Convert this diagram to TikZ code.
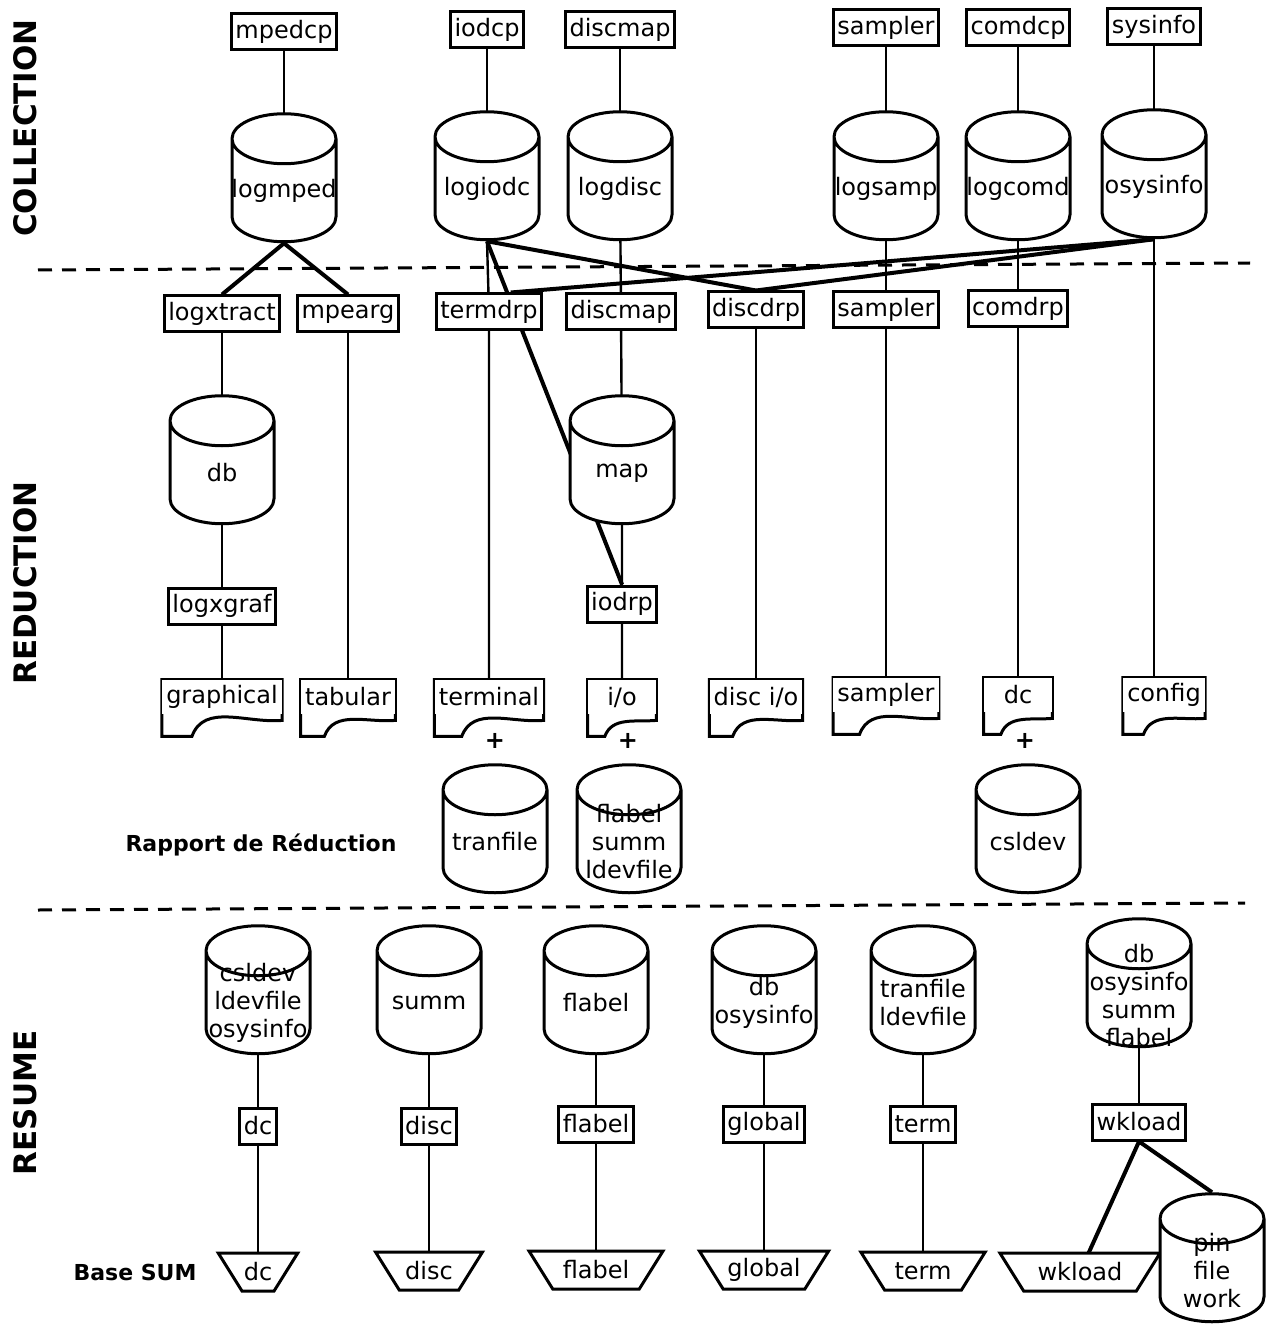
\documentclass[tikz,border=0pt]{standalone}
\usepackage{fontspec}
\setmainfont{DejaVu Sans}
\usetikzlibrary{shapes.geometric,backgrounds,calc}
\tikzset{
  prog/.style={draw,fill=white,line width=1.5pt,inner xsep=2pt,inner ysep=1pt,minimum height=18pt},
  base/.style={cylinder,shape border rotate=90,aspect=0.5,draw,fill=white,line width=1.5pt,
    minimum width=52pt,minimum height=64pt,inner sep=0pt,text width=50pt,
    label={[align=center]center:#1}},
  rapport/.style={fill=white,inner xsep=2pt,inner ysep=1pt,minimum height=17pt,minimum width=34pt,
    append after command={\pgfextra{\draw[line width=1.5pt]
      (\tikzlastnode.north west) -- ([yshift=-11pt]\tikzlastnode.south west)
      -- ($(\tikzlastnode.south west)!.25!(\tikzlastnode.south east)+(0,-11pt)$)
      to[out=70,in=185] ([yshift=-3pt]\tikzlastnode.south east)
      -- (\tikzlastnode.north east) -- cycle;}}},
  sum/.style={trapezium,shape border rotate=180,trapezium left angle=58,trapezium right angle=58,
    draw,fill=white,line width=1.5pt,inner xsep=-1.5pt,inner ysep=2pt,minimum height=19pt},
  lien/.style={line width=1.2pt},
  gros/.style={line width=2pt},
  coupe/.style={line width=1.5pt,dash pattern=on 7pt off 5pt},
  section/.style={rotate=90,font=\fontsize{15.5}{18}\selectfont\bfseries}
}
\begin{document}
\begin{tikzpicture}[x=0.5pt,y=-0.5pt,font=\fontsize{12}{14}\selectfont]
\useasboundingbox (0,0) rectangle (1279,1326);

% COLLECTION
\node[section] (collection) at (25,128) {COLLECTION};
\node[prog] (mpedcp) at (284,32) {mpedcp};
\node[prog] (iodcp) at (487,30) {iodcp};
\node[prog] (discmapc) at (620,30) {discmap};
\node[prog] (samplerc) at (886,28) {sampler};
\node[prog] (comdcp) at (1018,28) {comdcp};
\node[prog] (sysinfo) at (1154,27) {sysinfo};

\node[base=logmped] (logmped) at (284,191) {};
\node[base=logiodc] (logiodc) at (487,189) {};
\node[base=logdisc] (logdisc) at (620,189) {};
\node[base=logsamp] (logsamp) at (886,189) {};
\node[base=logcomd] (logcomd) at (1018,189) {};
\node[base=osysinfo] (logsysinfo) at (1154,187) {};

\draw[coupe] (38,270) -- (1250,263);

% REDUCTION
\node[section] (reduction) at (25,583) {REDUCTION};
\node[prog] (logxtract) at (222,314) {logxtract};
\node[prog] (mpearg) at (348,314) {mpearg};
\node[prog] (termdrp) at (489,312) {termdrp};
\node[prog] (discmapr) at (621,312) {discmap};
\node[prog] (discdrp) at (756,310) {discdrp};
\node[prog] (samplerr) at (886,310) {sampler};
\node[prog] (comdrp) at (1018,309) {comdrp};

\node[base=db] (db) at (222,473) {};
\node[base=map] (map) at (622,473) {};
\node[prog] (logxgraf) at (222,606) {logxgraf};
\node[prog] (iodrp) at (622,604) {iodrp};

\node[rapport] (graphical) at (222,697) {graphical};
\node[rapport] (tabular) at (348,697) {tabular};
\node[rapport] (terminal) at (489,697) {terminal};
\node[rapport] (io) at (622,697) {i/o};
\node[rapport] (discio) at (756,697) {disc i/o};
\node[rapport] (samplerdoc) at (886,695) {sampler};
\node[rapport] (dcdoc) at (1018,695) {dc};
\node[rapport] (config) at (1164,695) {config};

\node[font=\fontsize{12}{14}\selectfont\bfseries] (plus1) at (495,741) {+};
\node[font=\fontsize{12}{14}\selectfont\bfseries] (plus2) at (628,741) {+};
\node[font=\fontsize{12}{14}\selectfont\bfseries] (plus3) at (1025,741) {+};

\node[font=\fontsize{11}{13}\selectfont\bfseries] (rapportred) at (261,845) {Rapport de Réduction};
\node[base=tranfile] (tranfile) at (495,842) {};
\node[base={flabel\\summ\\ldevfile}] (fichiers) at (629,842) {};
\node[base=csldev] (csldev) at (1028,842) {};

\draw[coupe] (38,910) -- (1245,903);

% RESUME
\node[section] (resume) at (25,1103) {RESUME};
\node[base={csldev\\ldevfile\\osysinfo}] (bdc) at (258,1003) {};
\node[base=summ] (bdisc) at (429,1003) {};
\node[base=flabel] (bflabel) at (596,1003) {};
\node[base={db\\osysinfo}] (bglobal) at (764,1003) {};
\node[base={tranfile\\ldevfile}] (bterm) at (923,1003) {};
\node[base={db\\osysinfo\\summ\\flabel}] (bwkload) at (1139,996) {};

\node[prog] (dc) at (258,1126) {dc};
\node[prog] (disc) at (429,1126) {disc};
\node[prog] (flabel) at (596,1124) {flabel};
\node[prog] (global) at (764,1124) {global};
\node[prog] (term) at (923,1124) {term};
\node[prog] (wkload) at (1139,1122) {wkload};

\node[font=\fontsize{11}{13}\selectfont\bfseries] (basesum) at (135,1272) {Base SUM};
\node[sum] (sdc) at (258,1272) {dc};
\node[sum] (sdisc) at (429,1271) {disc};
\node[sum] (sflabel) at (596,1270) {flabel};
\node[sum] (sglobal) at (764,1270) {global};
\node[sum] (sterm) at (923,1271) {term};
\node[sum] (swkload) at (1080,1272) {wkload};
\node[base={pin\\file\\work}] (pin) at (1212,1271) {};

\begin{pgfonlayer}{background}
\draw[lien] (mpedcp.center) -- (logmped.center);
\draw[lien] (iodcp.center) -- (logiodc.center);
\draw[lien] (discmapc.center) -- (logdisc.center);
\draw[lien] (samplerc.center) -- (logsamp.center);
\draw[lien] (comdcp.center) -- (logcomd.center);
\draw[lien] (sysinfo.center) -- (logsysinfo.center);

\draw[gros] (logmped.bottom) -- (logxtract.north);
\draw[gros] (logmped.bottom) -- (mpearg.north);
\draw[lien] (logiodc.bottom) -- (termdrp.center) -- (terminal.center);
\draw[gros] (logiodc.bottom) -- (iodrp.north);
\draw[gros] (logiodc.bottom) -- (discdrp.north);
\draw[gros] (logsysinfo.bottom) -- ($(termdrp.north)!.4!(termdrp.north east)$);
\draw[gros] (logsysinfo.bottom) -- (discdrp.north);
\draw[lien] (logsysinfo.center) -- (logsysinfo.center |- config.center);

\draw[lien] (logxtract.center) -- (db.center) -- (logxgraf.center) -- (graphical.center);
\draw[lien] (mpearg.center) -- (tabular.center);
\draw[lien] (logdisc.center) -- (discmapr.center) -- (map.center) -- (iodrp.center) -- (io.center);
\draw[lien] (discdrp.center) -- (discio.center);
\draw[lien] (logsamp.center) -- (samplerr.center) -- (samplerdoc.center);
\draw[lien] (logcomd.center) -- (comdrp.center) -- (dcdoc.center);

\draw[lien] (bdc.center) -- (dc.center) -- (sdc.center);
\draw[lien] (bdisc.center) -- (disc.center) -- (sdisc.center);
\draw[lien] (bflabel.center) -- (flabel.center) -- (sflabel.center);
\draw[lien] (bglobal.center) -- (global.center) -- (sglobal.center);
\draw[lien] (bterm.center) -- (term.center) -- (sterm.center);
\draw[lien] (bwkload.center) -- (wkload.center);
\draw[gros] (wkload.south) -- (swkload.center);
\draw[gros] (wkload.south) -- (pin.top);
\end{pgfonlayer}
\end{tikzpicture}
\end{document}
